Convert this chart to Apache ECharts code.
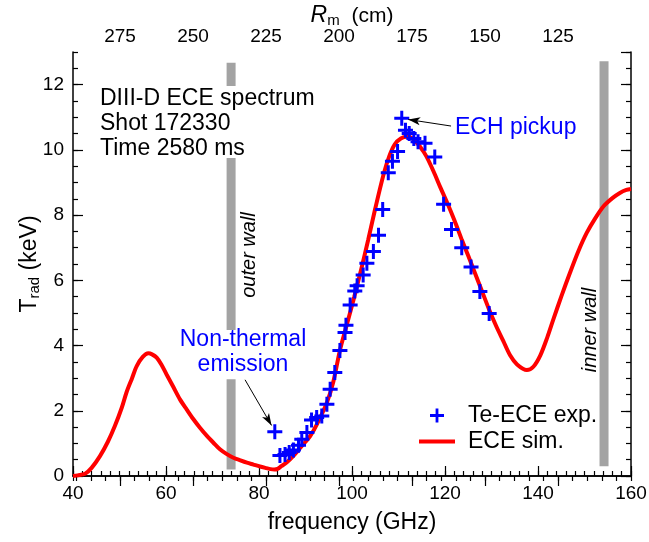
<!DOCTYPE html>
<html><head><meta charset="utf-8">
<script src="https://cdn.jsdelivr.net/npm/echarts@6/dist/echarts.min.js"></script>
<style>html,body{margin:0;padding:0;background:#fff}#c{width:649px;height:542px}</style>
</head><body><div id="c"></div>
<script>
// ECE simulation curve
const simFreq = [40,41,42.6,44,45.8,47.5,49,50.5,51.5,52.7,53.7,55,56.2,57,58,59,60.1,61.5,63,64.5,65.9,67.3,68.8,70.2,71.6,73,74.5,76,77.4,78.8,80.2,81.6,82.5,83.3,84,84.8,86,87.4,88.8,90,91,92.5,94.6,96,97.4,99,100.5,102,103.5,105,106.8,108,109.2,110.5,111.9,113,114.6,116,117.5,119,120.4,122,123.6,125,126.5,128,129.5,131,132.5,134,135.5,137.6,139,140.5,142,143.3,145,146.9,148.7,150.5,152.3,154.1,156,157.6,159,160];
const simTrad = [0,0.02,0.07,0.25,0.61,1.05,1.53,2.1,2.56,3.0,3.37,3.65,3.76,3.73,3.63,3.42,3.12,2.75,2.35,2.03,1.74,1.48,1.23,1.02,0.82,0.68,0.56,0.48,0.41,0.35,0.29,0.24,0.21,0.2,0.22,0.3,0.42,0.62,0.85,1.05,1.22,1.6,2.25,2.9,3.85,4.7,5.5,6.35,7.25,8.2,9.25,9.8,10.17,10.35,10.4,10.35,10.1,9.8,9.35,8.85,8.4,7.85,7.25,6.75,6.2,5.65,5.1,4.6,4.15,3.7,3.42,3.25,3.35,3.7,4.25,4.8,5.5,6.24,6.9,7.46,7.9,8.27,8.52,8.68,8.77,8.8];
// Te-ECE experimental points
const expFreq = [83.4,84.5,85.6,86.5,87.4,88.5,89.2,90.3,91.3,92.4,93.5,94.6,95.3,96.3,97.4,98.5,98.7,99.6,100.6,101.1,102.4,103.2,104.6,105.7,106.6,107.8,108.7,109.8,110.7,111.5,112.3,113.3,114.2,115.7,117.8,119.7,121.4,123.6,125.6,127.5,129.5];
const expTrad = [1.36,0.63,0.66,0.72,0.8,0.94,1.13,1.33,1.72,1.79,1.84,2.2,2.66,3.17,3.85,4.4,4.62,5.24,5.67,5.83,6.16,6.52,6.88,7.38,8.17,9.3,9.65,9.95,10.97,10.6,10.5,10.35,10.25,10.2,9.78,8.33,7.56,7.0,6.41,5.66,4.98];
// walls
const outerWallFreq = 74;
const outerWallSpans = [[0.2,2.97],[4.48,9.75],[11.96,12.67]];
const innerWallFreq = 154.2;
const innerWallSpan = [0.3,12.72];
// axes
const freqRange = [40,160];
const tradRange = [0,13];
const rmRange = [100,291.1]; // R_m at f=160 and f=40

const FONT = '"Liberation Sans", Arial, Helvetica, sans-serif';
const plus = 'path://M4,0H6V4H10V6H6V10H4V6H0V4H4Z';
const bar = 'path://M0,0H36V4H0Z';

const simData = simFreq.map((f,i)=>[f, simTrad[i]]);
const expData = expFreq.map((f,i)=>[f, expTrad[i]]);
const outerData = [];
outerWallSpans.forEach((s,i)=>{ if(i>0) outerData.push([outerWallFreq,'-']); outerData.push([outerWallFreq,s[0]],[outerWallFreq,s[1]]); });
const innerData = [[innerWallFreq, innerWallSpan[0]],[innerWallFreq, innerWallSpan[1]]];

const lab = {fontFamily: FONT, fontSize: 19, color:'#000'};
function xAx(pos, min, max, interval, major, extra){
  return Object.assign({
    type:'value', position:pos, min, max, interval, nameMoveOverlap:false,
    axisLine:{show: major, lineStyle:{color:'#000', width:1.5}},
    axisTick:{show:true, inside:true, length: major?10:5, lineStyle:{color:'#000', width:1.2}},
    axisLabel:{show: major, ...lab, margin:8, showMinLabel:true, showMaxLabel:true},
    splitLine:{show:false}
  }, extra||{});
}
const xAxes = [
  xAx('bottom', freqRange[0], freqRange[1], 20, true, {
    name:'frequency (GHz)', nameLocation:'middle', nameGap:35,
    nameTextStyle:{fontFamily:FONT, fontSize:23, color:'#000'}}),
  xAx('bottom', freqRange[0], freqRange[1], 2, false),
  xAx('top', rmRange[0], rmRange[1], 25, true, {inverse:true,
    axisLabel:{...lab, margin:6, showMinLabel:false, showMaxLabel:false},
    name:'{i|R}{s|m}{n|  (cm)}', nameLocation:'middle', nameGap:24,
    nameTextStyle:{rich:{
      i:{fontFamily:FONT, fontSize:23, fontStyle:'italic', color:'#000', lineHeight:24},
      s:{fontFamily:FONT, fontSize:15, color:'#000', padding:[10,0,0,0], lineHeight:16},
      n:{fontFamily:FONT, fontSize:21, color:'#000', lineHeight:24}}}}),
  xAx('top', rmRange[0], rmRange[1], 5, false, {inverse:true})
];
function yAx(pos, interval, major, labels, extra){
  return Object.assign({
    type:'value', position:pos, min:tradRange[0], max:tradRange[1], interval, nameMoveOverlap:false,
    axisLine:{show: major, lineStyle:{color:'#000', width:1.5}},
    axisTick:{show:true, inside:true, length: major?10:5, lineStyle:{color:'#000', width:1.2}},
    axisLabel:{show: labels, ...lab, margin:9, showMaxLabel:false},
    splitLine:{show:false}
  }, extra||{});
}
const yAxes = [
  yAx('left', 2, true, true, {
    name:'{t|T}{s|rad}{t| (keV)}', nameLocation:'middle', nameGap:31, nameRotate:90,
    nameTextStyle:{rich:{
      t:{fontFamily:FONT, fontSize:23, color:'#000', lineHeight:24},
      s:{fontFamily:FONT, fontSize:15, color:'#000', padding:[10,0,0,0], lineHeight:16}}}}),
  yAx('left', 0.5, false, false),
  yAx('right', 2, true, false),
  yAx('right', 0.5, false, false)
];

const chart = echarts.init(document.getElementById('c'), null, {renderer:'canvas'});
const txt = (x,y,text,color,align,font)=>({type:'text', x, y, silent:true,
  style:{text, fill:color, font: font || ('23px '+FONT), textAlign:align||'left', textVerticalAlign:'middle', verticalAlign:'middle'}});

chart.setOption({
  animation:false,
  backgroundColor:'#fff',
  grid:{left:73, right:18, top:52, bottom:66, containLabel:false, outerBoundsMode:'none'},
  xAxis: xAxes,
  yAxis: yAxes,
  legend:{
    orient:'vertical', left:414, top:399, itemWidth:36, itemHeight:14, itemGap:3,
    textStyle:{fontFamily:FONT, fontSize:23, lineHeight:23, color:'#000', padding:[0,0,0,8]},
    data:[{name:'Te-ECE exp.', icon: plus}, {name:'ECE sim.', icon: bar}]
  },
  series:[
    {name:'outer wall', type:'line', data: outerData, symbol:'none', z:1,
      lineStyle:{color:'#a3a3a3', width:9, cap:'butt'}, connectNulls:false},
    {name:'inner wall', type:'line', data: innerData, symbol:'none', z:1,
      lineStyle:{color:'#a3a3a3', width:9, cap:'butt'}},
    {name:'ECE sim.', type:'line', data: simData, symbol:'none', smooth:0.3, z:3,
      itemStyle:{color:'#ff0000'}, lineStyle:{color:'#ff0000', width:4}},
    {name:'Te-ECE exp.', type:'scatter', data: expData, symbol: plus, symbolSize:15, z:4,
      itemStyle:{color:'#0000ff', opacity:1},
      markLine:{silent:true, symbol:['none','arrow'], symbolSize:[6,12], animation:false,
        lineStyle:{color:'#000', width:1, type:'solid'}, label:{show:false},
        data:[
          [{coord:[121.3,10.73]},{coord:[112.1,10.93]}],
          [{coord:[77.0,2.95]},{coord:[82.7,1.55]}]
        ]}}
  ],
  graphic:[
    txt(100,99,'DIII-D ECE spectrum','#000'),
    txt(100,124,'Shot 172330','#000'),
    txt(100,149,'Time 2580 ms','#000'),
    txt(455,128,'ECH pickup','#0000ff'),
    txt(243,340,'Non-thermal','#0000ff','center'),
    txt(243,365,'emission','#0000ff','center'),
    {type:'text', x:249, y:255, rotation:Math.PI/2, silent:true,
      style:{text:'outer wall', fill:'#000', font:'italic 20px '+FONT, textAlign:'center', textVerticalAlign:'middle', verticalAlign:'middle'}},
    {type:'text', x:590, y:330, rotation:Math.PI/2, silent:true,
      style:{text:'inner wall', fill:'#000', font:'italic 20px '+FONT, textAlign:'center', textVerticalAlign:'middle', verticalAlign:'middle'}}
  ]
});
</script></body></html>
